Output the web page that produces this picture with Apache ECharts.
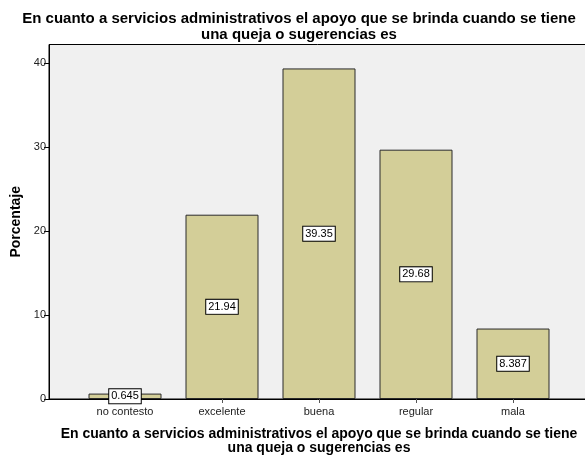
<!DOCTYPE html>
<html>
<head>
<meta charset="utf-8">
<script src="https://cdn.jsdelivr.net/npm/echarts@6/dist/echarts.min.js"></script>
<style>
  html, body { margin: 0; padding: 0; background: #ffffff; }
  #chart { width: 585px; height: 456px; }
</style>
</head>
<body>
<div id="chart"></div>
<script>
// Response categories and their percentages
const categories = ['no contesto', 'excelente', 'buena', 'regular', 'mala'];
const percentages = [0.645, 21.94, 39.35, 29.68, 8.387];
const yTicks = [0, 10, 20, 30, 40];

const titleText = 'En cuanto a servicios administrativos el apoyo que se brinda cuando se tiene\nuna queja o sugerencias es';
const FONT = '"Liberation Sans", Arial, sans-serif';

const chart = echarts.init(document.getElementById('chart'), null, { renderer: 'canvas' });

chart.setOption({
  animation: false,
  backgroundColor: '#ffffff',
  title: {
    text: titleText,
    left: 294,
    textAlign: 'center',
    top: 6,
    textStyle: { fontFamily: FONT, fontSize: 15, fontWeight: 'bold', color: '#000', lineHeight: 16 }
  },
  grid: [
    // full plot frame with the percentage scale
    { left: 49, right: -4, top: 44.5, bottom: 57, show: true, backgroundColor: '#f0f0f0', borderColor: '#000', borderWidth: 1, outerBoundsMode: 'none', containLabel: false },
    // bar band area
    { left: 76.5, right: 23.5, top: 44.5, bottom: 57, outerBoundsMode: 'none', containLabel: false }
  ],
  xAxis: [
    {
      gridIndex: 0, type: 'value', min: 0, max: 1,
      axisLine: { show: true, lineStyle: { color: '#000', width: 1 } },
      axisTick: { show: false }, axisLabel: { show: false }, splitLine: { show: false }
    },
    {
      gridIndex: 1, type: 'category', data: categories,
      axisLine: { show: false },
      axisTick: { show: true, alignWithLabel: true, length: 4, lineStyle: { color: '#555' } },
      axisLabel: { fontFamily: FONT, fontSize: 11, color: '#222', margin: 7 },
      name: titleText,
      nameLocation: 'middle',
      nameGap: 28,
      nameTextStyle: { fontFamily: FONT, fontSize: 14, fontWeight: 'bold', color: '#000', lineHeight: 14 }
    }
  ],
  yAxis: [
    {
      gridIndex: 0, type: 'value', min: 0, max: 42.2, interval: 10,
      axisLine: { show: true, lineStyle: { color: '#000', width: 1 } },
      axisTick: { show: true, length: 5, customValues: yTicks, lineStyle: { color: '#000' } },
      axisLabel: { fontFamily: FONT, fontSize: 11, color: '#222', margin: 3, customValues: yTicks },
      splitLine: { show: false },
      name: 'Porcentaje',
      nameLocation: 'middle',
      nameGap: 23,
      nameTextStyle: { fontFamily: FONT, fontSize: 14, fontWeight: 'bold', color: '#000' }
    },
    {
      gridIndex: 1, type: 'value', min: 0, max: 42.2, show: false
    }
  ],
  series: [
    {
      type: 'bar',
      xAxisIndex: 1,
      yAxisIndex: 1,
      data: percentages,
      barWidth: 73,
      itemStyle: { color: '#d3ce98', borderColor: '#2a2a2a', borderWidth: 1 },
      label: {
        show: true,
        position: 'inside',
        formatter: p => String(p.value),
        fontFamily: FONT,
        fontSize: 11,
        color: '#000',
        backgroundColor: '#ffffff',
        borderColor: '#000',
        borderWidth: 1,
        padding: [2, 2, 1, 2]
      }
    }
  ]
});
</script>
</body>
</html>
